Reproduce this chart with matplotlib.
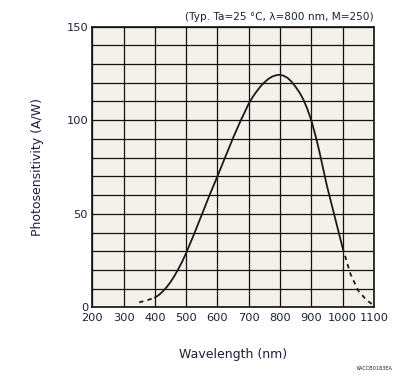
import matplotlib
matplotlib.use("Agg")
import matplotlib.pyplot as plt
from matplotlib.ticker import MultipleLocator

# Data
wl_dash_lo = [350, 375, 400]
pr_dash_lo = [2.7, 3.8, 5.2]

wl_solid = [400, 412.5, 425, 437.5, 450, 462.5, 475, 487.5, 500, 525, 550, 575,
            600, 625, 650, 675, 700, 712.5, 725, 737.5, 750, 762.5, 775, 787.5,
            800, 812.5, 825, 837.5, 850, 862.5, 875, 887.5, 900, 912.5, 925,
            950, 975, 1000]
pr_solid = [5.2, 6.6, 8.5, 10.8, 13.5, 16.8, 20.5, 24.5, 29, 39, 49.5, 60,
            70, 80.3, 90.5, 100, 108.8, 112.3, 115.3, 118, 120.2, 122, 123.3, 124,
            124.3, 123.7, 122.5, 120.5, 117.8, 114.8, 111, 106, 100, 92.5, 84,
            65, 48.5, 32]

wl_dash_hi = [1000, 1025, 1050, 1075, 1100]
pr_dash_hi = [32, 18, 9, 4.2, 1]

x_ticks = [200, 300, 400, 500, 600, 700, 800, 900, 1000, 1100]
y_ticks = [0, 50, 100, 150]

title_txt = "(Typ. Ta=25 \u00b0C, \u03bb=800 nm, M=250)"
xlabel_txt = "Wavelength (nm)"
ylabel_txt = "Photosensitivity (A/W)"
code_txt = "KACCB0183EA"

txtc = "#1c2038"

fig = plt.figure(figsize=(3.96, 3.80), dpi=100)
ax = fig.add_axes([0.233, 0.191, 0.711, 0.739])
ax.set_facecolor("#f4f1ea")

ax.plot(wl_solid, pr_solid, color="#1a1a1a", lw=1.3, solid_capstyle="round",
        solid_joinstyle="round", zorder=3)
ax.plot(wl_dash_lo, pr_dash_lo, color="#1a1a1a", lw=1.3, ls=(0, (2.4, 2.4)), zorder=3)
ax.plot(wl_dash_hi, pr_dash_hi, color="#1a1a1a", lw=1.3, ls=(0, (2.4, 2.4)), zorder=3)

ax.set_xlim(200, 1100)
ax.set_ylim(0, 150)
ax.set_xticks(x_ticks)
ax.set_yticks(y_ticks)
ax.yaxis.set_minor_locator(MultipleLocator(10))
ax.grid(True, which="both", color="#111111", lw=0.9, zorder=1)
ax.set_axisbelow(True)
for s in ax.spines.values():
    s.set_color("#111111")
    s.set_linewidth(1.2)

ax.tick_params(axis="both", which="both", length=0, labelsize=8.2, colors=txtc, pad=3)
ax.tick_params(axis="x", pad=4)

ax.set_xlabel(xlabel_txt, fontsize=9, color=txtc, labelpad=18)
ax.set_ylabel(ylabel_txt, fontsize=9, color=txtc)
ax.yaxis.set_label_coords(-0.172, 0.5)

fig.text(0.944, 0.955, title_txt, ha="right", va="center", fontsize=7.6, color=txtc)
fig.text(0.992, 0.029, code_txt, ha="right", va="center", fontsize=3.6, color=txtc)

fig.savefig("out.png", dpi=100)
